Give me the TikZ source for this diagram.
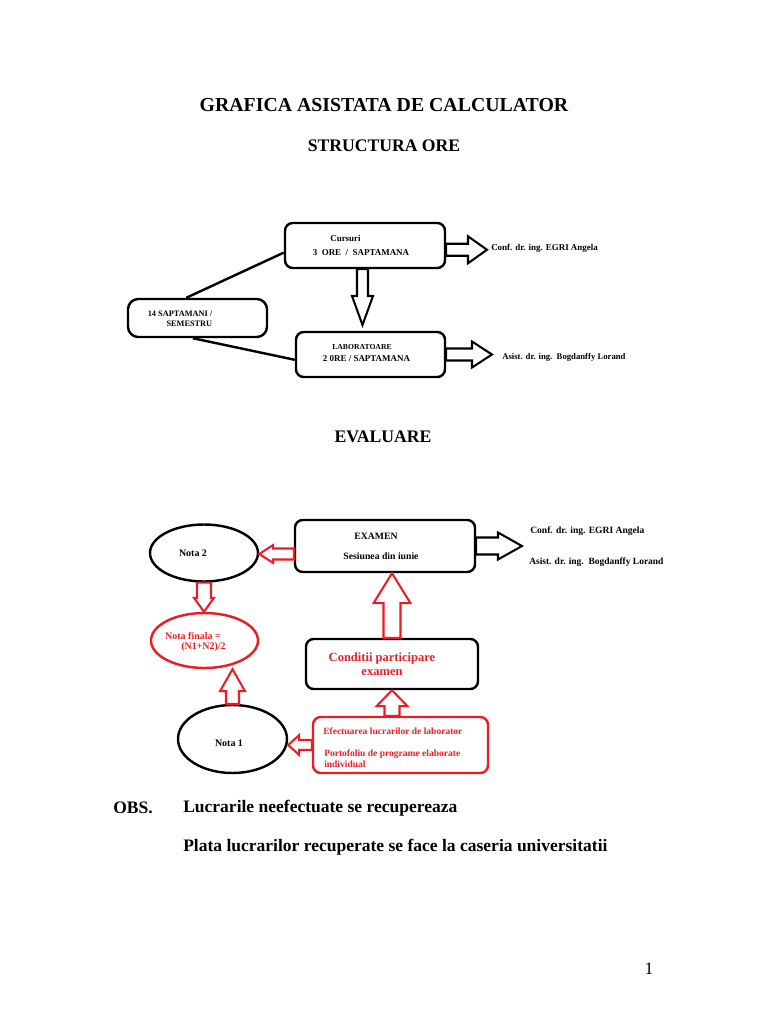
\documentclass[tikz,border=0pt]{standalone}
\usepackage{fontspec}
\setmainfont{Liberation Serif}
\usepackage{xcolor}
\usetikzlibrary{calc}
\usetikzlibrary{positioning}
\usetikzlibrary{shapes.geometric}
\newcommand{\pxl}{0.0275cm}
\newcommand{\fsz}[2]{\fontsize{#1}{#2}\selectfont}
\definecolor{redline}{RGB}{237,28,36}
\tikzstyle{box}=[draw,rounded corners=6pt,line width=1.9pt,inner sep=0pt]
\tikzstyle{oval}=[draw,ellipse,line width=1.9pt,inner sep=0pt]
\tikzstyle{txt}=[inner sep=0pt,font=\bfseries]
\tikzset{hollow/.style args={#1/#2/#3}{fill=white,line width=1.6pt,line join=miter,
  to path={($(\tikztostart)!#1*\pxl!90:(\tikztotarget)$)
    -- ($(\tikztotarget)!#3*\pxl!(\tikztostart)!#1*\pxl!-90:(\tikztostart)$)
    -- ($(\tikztotarget)!#3*\pxl!(\tikztostart)!#2*\pxl!-90:(\tikztostart)$)
    -- (\tikztotarget)
    -- ($(\tikztotarget)!#3*\pxl!(\tikztostart)!#2*\pxl!90:(\tikztostart)$)
    -- ($(\tikztotarget)!#3*\pxl!(\tikztostart)!#1*\pxl!90:(\tikztostart)$)
    -- ($(\tikztostart)!#1*\pxl!-90:(\tikztotarget)$) -- cycle}}}

\begin{document}
\begin{tikzpicture}[x=\pxl,y=-\pxl]
\useasboundingbox (0,0) rectangle (768,1024);
% headings
\node[txt,font=\bfseries\fsz{15.5pt}{18pt}] (title) at (384,105) {GRAFICA ASISTATA DE CALCULATOR};
\node[txt,font=\bfseries\fsz{13.8pt}{16pt}] (subtitle) at (384,146) {STRUCTURA ORE};
\node[txt,font=\bfseries\fsz{13.8pt}{16pt}] (evtitle) at (383,437) {EVALUARE};

% structura ore
\node[box,minimum width=160*\pxl,minimum height=45*\pxl] (cur) at (365,245.5) {};
\node[box,rounded corners=8pt,minimum width=139*\pxl,minimum height=38*\pxl] (sem) at (197.5,318) {};
\node[box,minimum width=149*\pxl,minimum height=45*\pxl] (lab) at (370.5,354.5) {};
\node[txt,font=\bfseries\fsz{7pt}{8pt}] (lcur1) at (345.5,238) {Cursuri};
\node[txt,font=\bfseries\fsz{7pt}{8pt}] (lcur2) at (361,253) {3\ \ ORE\ \ /\ \ SAPTAMANA};
\node[txt,align=right,font=\bfseries\fsz{6.5pt}{7.8pt}] (lsem) at (180,319) {14 SAPTAMANI /\\SEMESTRU};
\node[txt,font=\bfseries\fsz{6pt}{7pt}] (llab1) at (362,347) {LABORATOARE};
\node[txt,font=\bfseries\fsz{7pt}{8pt}] (llab2) at (366.5,359) {2 0RE / SAPTAMANA};
\node[txt,anchor=west,font=\bfseries\fsz{7pt}{8pt}] (lprof1) at (491,248) {Conf. dr. ing. EGRI Angela};
\node[txt,anchor=west,font=\bfseries\fsz{6.8pt}{8pt}] (lprof2) at (502,357) {Asist. dr. ing.\ \ Bogdanffy Lorand};
\coordinate (curtip) at (487,249);
\coordinate (labtip) at (492,356);
\coordinate (downtip) at (362.5,325);

\draw[line width=1.9pt] (sem.119) -- (cur.185);
\draw[line width=1.9pt] (sem.257) -- (lab.184);
\draw[hollow=6/13.5/19] (cur.-3) to (cur.-3 -| curtip);
\draw[hollow=6/13/20] (lab.east) to (lab.east -| labtip);
\draw[hollow=5.5/10.5/29] (cur.south -| downtip) to (downtip);

% evaluare
\node[box,minimum width=180*\pxl,minimum height=52*\pxl] (exam) at (385,546) {};
\node[box,minimum width=172*\pxl,minimum height=50*\pxl] (cond) at (392,664) {};
\node[box,draw=redline,minimum width=175*\pxl,minimum height=56*\pxl] (efe) at (400.5,745) {};
\node[oval,minimum width=108*\pxl,minimum height=57*\pxl] (nota2) at (204,553) {};
\node[oval,draw=redline,minimum width=107*\pxl,minimum height=55*\pxl] (fin) at (204.5,640.5) {};
\node[oval,minimum width=109*\pxl,minimum height=68*\pxl] (nota1) at (232.5,739) {};

\node[txt,font=\bfseries\fsz{7.6pt}{9pt}] (lex1) at (376,536) {EXAMEN};
\node[txt,font=\bfseries\fsz{7.6pt}{9pt}] (lex2) at (381,556) {Sesiunea din iunie};
\node[txt,anchor=west,font=\bfseries\fsz{7.5pt}{9pt}] (lprof3) at (530,531) {Conf. dr. ing. EGRI Angela};
\node[txt,anchor=west,font=\bfseries\fsz{7.4pt}{9pt}] (lprof4) at (529,562) {Asist. dr. ing.\ \ Bogdanffy Lorand};
\node[txt,font=\bfseries\fsz{7.8pt}{9pt}] (ln2) at (193,553) {Nota 2};
\node[txt,text=redline,font=\bfseries\fsz{7.8pt}{9pt}] (lfin1) at (193,636) {Nota finala =};
\node[txt,text=redline,font=\bfseries\fsz{7.8pt}{9pt}] (lfin2) at (203.5,647) {(N1+N2)/2};
\node[txt,font=\bfseries\fsz{7.8pt}{9pt}] (ln1) at (229,743) {Nota 1};
\node[txt,align=center,text=redline,font=\bfseries\fsz{9.8pt}{11pt}] (lcond) at (382,664) {Conditii participare\\examen};
\node[txt,anchor=west,text=redline,font=\bfseries\fsz{7.45pt}{9pt}] (lefe1) at (323,731) {Efectuarea lucrarilor de laborator};
\node[txt,anchor=west,align=left,text=redline,font=\bfseries\fsz{7.45pt}{8.6pt}] (lefe2) at (324,758.5) {Portofoliu de programe elaborate\\individual};
\coordinate (extip) at (522,546.5);

\draw[hollow=8.5/13.5/24] (exam.east) to (exam.east -| extip);
\draw[hollow=5.5/9/14,draw=redline] (exam.185) to (exam.185 -| nota2.east);
\draw[hollow=7/10/14,draw=redline] (nota2.south) to (nota2.south |- fin.north);
\draw[hollow=6.5/12.5/22,draw=redline] (nota1.north) to (nota1.north |- fin.south);
\draw[hollow=8.5/18.5/30,draw=redline] (cond.north) to (cond.north |- exam.south);
\draw[hollow=7.5/15.5/16,draw=redline] (cond.south |- efe.north) to (cond.south);
\draw[hollow=5/10/11,draw=redline] (efe.west) to (efe.west -| nota1.east);

% observatii
\node[txt,anchor=west,font=\bfseries\fsz{13.7pt}{16pt}] (obs) at (113,808) {OBS.};
\node[txt,anchor=west,font=\bfseries\fsz{13.7pt}{16pt}] (obs1) at (183,808) {Lucrarile neefectuate se recupereaza};
\node[txt,anchor=west,font=\bfseries\fsz{13.7pt}{16pt}] (obs2) at (183,847) {Plata lucrarilor recuperate se face la caseria universitatii};
\node[inner sep=0pt,font=\fsz{13.7pt}{16pt}] (pagenr) at (649,969) {1};
\end{tikzpicture}
\end{document}
